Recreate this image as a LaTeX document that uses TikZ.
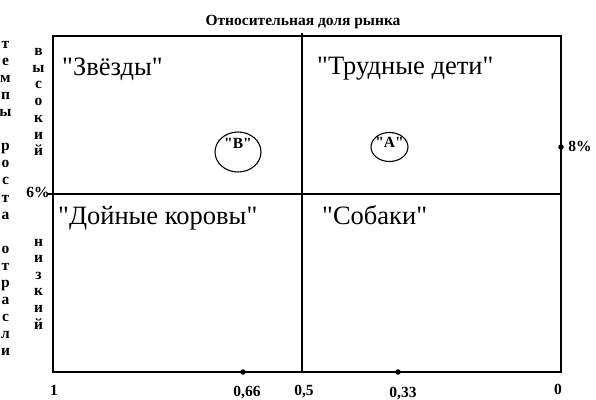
\documentclass[tikz,border=0pt]{standalone}
\usepackage{fontspec}
\newfontfamily\tnr{Liberation Serif}
\usetikzlibrary{shapes.geometric}
\newcommand\dq{"}
\begin{document}
\begin{tikzpicture}[x=1pt,y=-1pt,
  frame/.style={line width=1.1pt},
  small/.style={font=\tnr\fontsize{15.5}{17}\selectfont\bfseries, inner sep=0pt, anchor=base},
  big/.style={font=\tnr\fontsize{26.5}{30}\selectfont, inner sep=0pt, anchor=base west},
  dotmark/.style={circle, fill=black, inner sep=0pt, minimum size=5.5pt},
  ring/.style={ellipse, draw, line width=1.1pt, inner sep=0pt}]
\useasboundingbox (0,0) rectangle (596,399);
% frame corners
\coordinate (tl) at (53,36);
\coordinate (tr) at (561,36);
\coordinate (bl) at (53,372);
\coordinate (br) at (561,372);
\coordinate (mt) at (302,33);
\coordinate (mb) at (302,372);
\coordinate (ml) at (48,194);
\coordinate (mr) at (561,194);
\draw[frame] (tl) -- (tr) -- (br) -- (bl) -- cycle;
\draw[frame] (mt) -- (mb);
\draw[frame] (ml) -- (mr);
% title
\node[small] (title) at (303,25.5) {Относительная доля рынка};
% quadrant labels
\node[big] (stars) at (62,75) {\dq Звёзды\dq};
\node[big] (problem) at (317,74) {\dq Трудные дети\dq};
\node[big] (cows) at (58,224) {\dq Дойные коровы\dq};
\node[big] (dogs) at (322,224) {\dq Собаки\dq};
% circles
\node[ring, minimum width=46pt, minimum height=40pt] (B) at (238,152) {};
\node[small] (Blab) at (238,148.5) {\dq B\dq};
\node[ring, minimum width=37pt, minimum height=29pt] (A) at (389.5,147) {};
\node[small] (Alab) at (389.5,147.5) {\dq A\dq};
% vertical text
\foreach \ch [count=\i] in {т,е,м,п,ы,{},р,о,с,т,а,{},о,т,р,а,с,л,и}
  \node[small] (l\i) at (5.5,{48.5+(\i-1)*17.06}) {\ch};
\foreach \ch [count=\i] in {в,ы,с,о,к,и,й}
  \node[small] (h\i) at (38.5,{55.5+(\i-1)*16.7}) {\ch};
\foreach \ch [count=\i] in {н,и,з,к,и,й}
  \node[small] (n\i) at (38.5,{246+(\i-1)*16.6}) {\ch};
\node[small] (six) at (38,197) {6\%};
% 8% marker
\node[dotmark] (d8) at (561,147) {};
\node[small] (eight) at (580,151) {8\%};
% bottom axis
\node[dotmark] (d66) at (243,372) {};
\node[dotmark] (d33) at (398,372) {};
\node[small] (one) at (54,395) {1};
\node[small] (x66) at (247,396) {0,66};
\node[small] (x5) at (304,395) {0,5};
\node[small] (x33) at (403,397) {0,33};
\node[small] (zero) at (558,394) {0};
\end{tikzpicture}
\end{document}
